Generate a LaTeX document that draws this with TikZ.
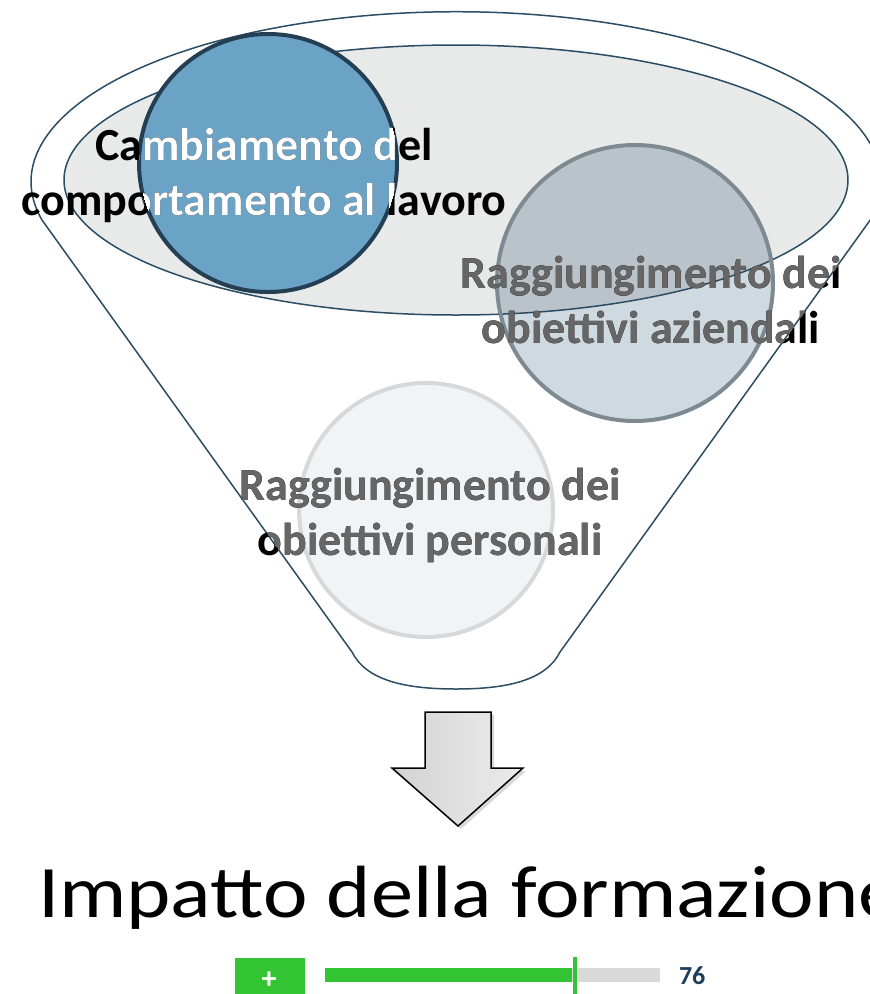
\documentclass[tikz,border=0pt]{standalone}
\usepackage{fontspec}
\setmainfont{Carlito}
\definecolor{FunnelLine}{HTML}{2A4D63}
\definecolor{EllipseFill}{HTML}{E8EAEA}
\definecolor{BlueFill}{HTML}{6BA3C6}
\definecolor{BlueLine}{HTML}{243F53}
\definecolor{SlateFill}{HTML}{CFD9E0}
\definecolor{SlateDark}{HTML}{B9C3C9}
\definecolor{SlateLine}{HTML}{7E8A92}
\definecolor{PaleFill}{HTML}{F1F3F5}
\definecolor{PaleLine}{HTML}{D5D9DB}
\definecolor{TextGray}{HTML}{666666}
\definecolor{BarGreen}{HTML}{33C433}
\definecolor{BarGray}{HTML}{D9D9D9}
\definecolor{ScoreBlue}{HTML}{1F3D5C}

\newcommand{\funnelpath}{(42,220) arc[start angle=167, end angle=373, x radius=425, y radius=170]
  -- (560,652) .. controls (546,680) and (508,689) .. (456,689)
  .. controls (404,689) and (366,680) .. (352,652) -- cycle}

\begin{document}
\begin{tikzpicture}[x=1pt, y=-1pt,
    every node/.style={inner sep=0pt, outer sep=0pt},
    label/.style={align=center, anchor=base, font=\bfseries\fontsize{46}{55}\selectfont},
    funnel/.style={draw=FunnelLine, line width=1.5pt}]
		\useasboundingbox (0,0) rectangle (870,994);

		% the three goals and the funnel
		\coordinate (B) at (268,163);
		\coordinate (G) at (635,283);
		\coordinate (P) at (426,510);

		\draw[PaleLine, fill=PaleFill, line width=4pt] (P) circle [radius=127];

		\fill[EllipseFill] (456,180) ellipse [x radius=392, y radius=135];

		\fill[SlateFill] (G) circle [radius=138];
		\begin{scope}
			\clip (456,180) ellipse [x radius=392, y radius=135];
			\fill[SlateDark] (G) circle [radius=138];
		\end{scope}

		\draw[funnel] (456,180) ellipse [x radius=392, y radius=135];
		\draw[funnel] \funnelpath;
		\draw[SlateLine, line width=4pt] (G) circle [radius=138];

		\draw[BlueLine, fill=BlueFill, line width=4pt] (B) circle [radius=129];

		% labels, recoloured where they cross a shape
		\node[label] (cambio) at (264,215) {Cambiamento del\\comportamento al lavoro};
		\begin{scope}
			\clip (B) circle [radius=129];
			\node[label, white] (cambioin) at (264,215) {Cambiamento del\\comportamento al lavoro};
		\end{scope}

		\node[label] (aziendali) at (651,343) {Raggiungimento dei\\obiettivi aziendali};
		\node[label] (personali) at (430,555) {Raggiungimento dei\\obiettivi personali};
		\begin{scope}
			\clip \funnelpath;
			\node[label, TextGray] (aziendaliin) at (651,343) {Raggiungimento dei\\obiettivi aziendali};
			\node[label, TextGray] (personaliin) at (430,555) {Raggiungimento dei\\obiettivi personali};
		\end{scope}

		% arrow down
		\fill[black, opacity=0.15] (428,715) -- (494,715) -- (494,771) -- (526,771) -- (461,829) -- (395,771) -- (428,771) -- cycle;
		\draw[line width=1.5pt, left color=gray!35, right color=gray!15, line join=miter] (425,712) -- (491,712) -- (491,768) -- (523,768) -- (458,826) -- (392,768) -- (425,768) -- cycle;

		\node[anchor=base west, font=\fontsize{74}{80}\selectfont, xscale=1.14] (impatto) at (38,917) {Impatto della formazione};

		% score bar
		\fill[BarGreen] (235,958) rectangle (305,994);
		\node[white, font=\bfseries\fontsize{30}{30}\selectfont] (plus) at (269,980) {+};
		\fill[BarGreen] (325,968) rectangle (572,982);
		\fill[BarGray] (572,968) rectangle (660,982);
		\draw[BarGreen, line width=3.5pt] (575,957) -- (575,994);
		\node[anchor=base west, ScoreBlue, font=\bfseries\fontsize{26}{26}\selectfont] (score) at (679,984) {76};
	\end{tikzpicture}
\end{document}
